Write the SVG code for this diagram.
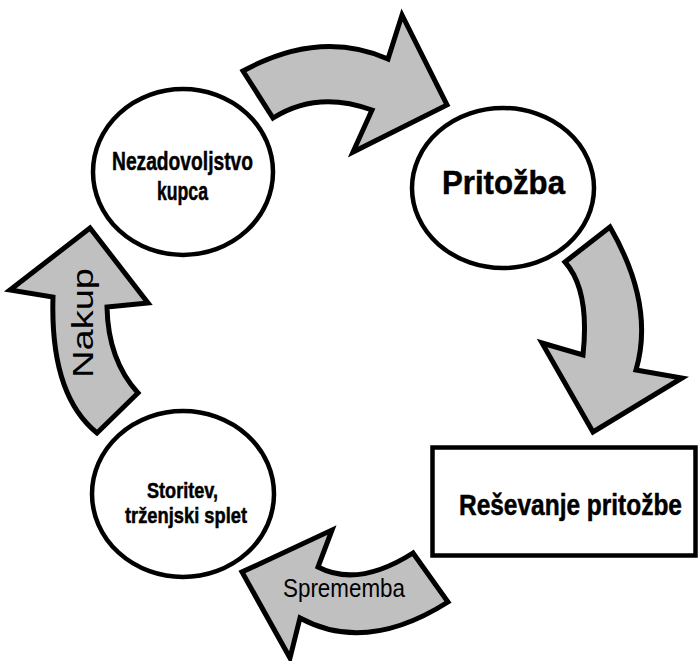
<svg xmlns="http://www.w3.org/2000/svg" width="700" height="661" viewBox="0 0 700 661">
  <style>
    .arrow { fill: #c0c0c0; stroke: #000; stroke-width: 5; stroke-linejoin: miter; stroke-miterlimit: 10; }
    .node { fill: #fff; stroke: #000; stroke-width: 4.5; }
    .bold { font-family: "Liberation Sans", Arial, sans-serif; font-weight: bold; fill: #000; stroke: #000; stroke-width: 0.5; }
    .reg { font-family: "Liberation Sans", Arial, sans-serif; fill: #000; }
  </style>
  <rect width="700" height="661" fill="#fff"/>

  <!-- curved cycle arrows -->
  <g id="connectors">
    <g id="arrow-top">
      <path class="arrow" d="M243,71 Q320,29 388,59 L402,15 L447,105 L353,152 L372,110 Q317,90 273,118 Z"/>
    </g>
    <g id="arrow-right">
      <path class="arrow" d="M565,262 L610,227 Q655,305 636,370 L682,378 L593,432 L542,343 L583,355 Q590,290 565,262 Z"/>
    </g>
    <g id="arrow-bottom">
      <path class="arrow" d="M413,553 L448,602 Q366,654 300,618 L290,658 L242,572 L332,530 L318,567 Q358,588 413,553 Z"/>
      <text class="reg" x="283" y="597" font-size="26" textLength="122" lengthAdjust="spacingAndGlyphs">Sprememba</text>
    </g>
    <g id="arrow-left">
      <path class="arrow" d="M97,433 Q50,395 53,297 L10,290 L90,228 L148,303 L107,307 Q108,360 138,393 Z"/>
      <text class="reg" transform="translate(93,378) rotate(-90)" x="0" y="0" font-size="30" textLength="110" lengthAdjust="spacingAndGlyphs">Nakup</text>
    </g>
  </g>

  <!-- nodes -->
  <g id="node-nezadovoljstvo">
    <ellipse class="node" cx="183" cy="172" rx="90" ry="83"/>
    <text class="bold" x="112" y="170" font-size="26" textLength="141" lengthAdjust="spacingAndGlyphs">Nezadovoljstvo</text>
    <text class="bold" x="157" y="200" font-size="26" textLength="51" lengthAdjust="spacingAndGlyphs">kupca</text>
  </g>
  <g id="node-pritozba">
    <ellipse class="node" cx="503" cy="188" rx="91" ry="80"/>
    <text class="bold" x="442" y="194" font-size="34" textLength="123" lengthAdjust="spacingAndGlyphs">Pritožba</text>
  </g>
  <g id="node-resevanje">
    <rect class="node" x="432.5" y="447.5" width="263" height="108" stroke-width="5"/>
    <!-- condensed heading: horizontal scale keeps the glyph box inside the frame -->
    <text class="bold" transform="translate(459,515) scale(0.816,1)" x="0" y="0" font-size="30">Reševanje pritožbe</text>
  </g>
  <g id="node-storitev">
    <ellipse class="node" cx="183" cy="494" rx="91" ry="83"/>
    <text class="bold" x="147" y="498" font-size="22" textLength="71" lengthAdjust="spacingAndGlyphs">Storitev,</text>
    <text class="bold" x="125" y="523" font-size="22" textLength="122" lengthAdjust="spacingAndGlyphs">trženjski splet</text>
  </g>
</svg>
